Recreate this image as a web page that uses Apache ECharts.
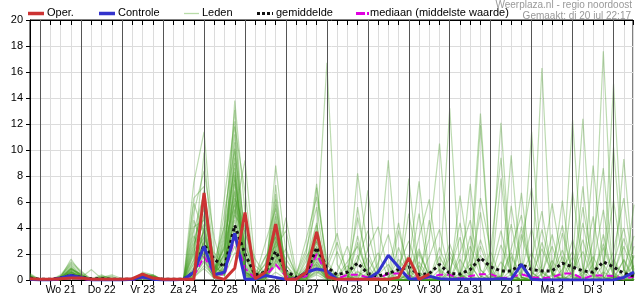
<!DOCTYPE html>
<html><head><meta charset="utf-8">
<script src="https://cdn.jsdelivr.net/npm/echarts@6/dist/echarts.min.js"></script>
<style>html,body{margin:0;padding:0;background:#fff}#c{width:635px;height:300px}</style>
</head><body><div id="c"></div>
<script>
// 6-hourly steps, index 0 = 20 jul 18:00
const dayLabels = ['Wo 21','Do 22','Vr 23','Za 24','Zo 25','Ma 26','Di 27','Wo 28','Do 29','Vr 30','Za 31','Zo 1','Ma 2','Di 3'];
const seriesNames = ['Oper.','Controle','Leden','gemiddelde','mediaan (middelste waarde)'];
const headerLines = ['Weerplaza.nl - regio noordoost','Gemaakt: di 20 jul 22:17'];

const oper = [.1,.05,.05,.1,.15,.15,.05,.05,.05,.05, .1,.45,.15,.05,.05,.05,.05,6.7,.25,.05, .9,5.2,.1,.6,4.3,.05,.05,.6,3.7,.25, .05,.05,.05,.05,.05,.05,.2,1.7,.05,.45];

const controle = [.05,0,0,.15,.35,.2,0,0,0,0, .05,.25,.05,0,0,.05,.6,2.6,.4,.6, 3.6,.05,.05,.35,.2,.05,.05,.6,.85,.7, .05,0,0,.1,.6,1.9,1.0,.1,.05,.3, .1,.05,.05,.05,.05,.05,.1,.05,1.2,.05, 0,0,0,0,0,0,0,0,.2,.6];

const gemiddelde = [.15,.05,.05,.15,.35,.2,.1,.1,.05,.05, .05,.3,.15,.05,.05,.05,.6,2.7,1.6,1.0, 4.2,2.0,.4,.6,2.2,.7,.2,.5,2.5,1.0, .4,.6,1.3,.5,.3,.5,.8,1.0,.4,.5, 1.2,.5,.45,.8,1.7,1.0,.7,.7,1.2,.8, .7,.7,1.3,1.0,.7,.6,1.4,1.0,.5,.3];

const mediaan = [.05,0,0,.05,.2,.1,0,0,0,0, 0,.2,.1,0,0,0,.3,1.8,.5,.4, 3.3,.9,.1,.3,1.2,.3,.05,.3,2.0,.4, .1,.4,.4,.2,.1,.5,.5,.3,.1,.2, .4,.4,.1,.3,.45,.45,.15,.2,.45,.2, .15,.2,.5,.5,.1,.35,.35,.3,.1,.25];

const leden = [
[.3,0,0,.2,1.6,.5,0,.1,0,0, 0,.3,.2,0,0,0,2.1,5.8,.8,2.5, 11.2,3.1,.3,1.2,4.5,.6,.1,.8,2.9,.4, 0,.2,1.5,3.8,.5,0,0,.4,2.2,.3, 0,0,6.5,1.2,0,.3,0,0,4.1,.6, 0,0,.2,1.8,0,0,3.5,.2,0,0],
[0,0,0,.3,1.2,.4,0,0,0,0, 0,.4,.3,0,0,0,.5,3.2,1.5,4.1, 8.6,1.2,0,.5,6.2,.3,0,1.5,4.4,.2, 0,0,8.2,2.2,.1,0,.8,1.9,0,0, .3,2.8,.4,0,0,0,7.8,.5,0,0, 0,1.1,4.2,.3,0,0,0,.5,2.6,.4],
[.1,0,0,.1,.8,.3,0,.3,.2,0, 0,.5,.1,0,0,0,7.5,11.4,2.1,1.0, 13.8,5.2,.4,.6,2.3,.2,0,.3,1.6,.1, 0,0,0,.4,0,0,0,0,.5,3.2, 10.5,.6,0,0,.2,1.4,0,0,0,.3, 2.4,.5,0,0,0,0,1.2,6.1,.8,0],
[0,0,0,.2,1.0,.2,.8,.1,.3,0, 0,.2,.2,0,0,0,1.2,2.8,.5,.6, 5.1,9.2,1.1,.4,3.6,.8,.2,.5,7.1,1.2, .2,0,.3,.8,0,0,2.5,.4,0,0, 0,0,0,1.6,12.8,.9,0,0,0,0, .4,3.5,.3,0,0,0,0,0,0,.6],
[.4,0,0,.4,1.4,.7,0,0,0,0, 0,.6,.4,0,0,0,.3,4.2,.3,3.3, 6.8,.9,.2,2.9,5.5,1.2,0,0,2.1,.5, .1,0,3.4,.2,0,0,0,0,1.1,0, 0,.7,3.3,.2,0,0,0,1.8,.2,0, 0,0,0,0,7.2,.4,0,.2,1.5,0],
[0,0,0,0,.6,.2,0,.2,.4,.1, 0,.2,.1,0,0,0,3.4,1.6,.1,1.8, 4.2,.3,0,.2,8.8,2.1,.5,2.4,5.6,.3, 0,0,0,0,0,0,.2,5.1,.6,0, 0,0,0,0,0,2.3,9.4,.5,0,0, 0,0,.8,2.2,.1,0,0,1.3,4.0,.3],
[.2,0,0,.1,.9,.4,0,0,0,0, 0,.4,.3,0,0,0,.8,3.5,.6,5.2, 10.1,1.8,.1,.3,1.4,4.8,.6,.1,3.3,16.7, 1.2,0,0,0,.4,1.2,0,0,0,0, .8,.2,0,0,3.1,.6,0,0,0,1.6, 5.3,.4,0,0,0,0,0,.2,0,0],
[0,0,0,.2,.7,.1,0,0,0,0, 0,.3,.2,0,0,0,5.2,8.4,3.2,.4, 7.4,2.6,.8,.2,3.1,.4,0,.6,.9,.2, 0,.6,4.8,1.1,0,0,0,0,0,0, 0,13.2,.5,0,0,0,.3,2.1,.2,0, 0,0,.2,6.8,1.0,0,0,0,.3,1.1],
[.1,0,0,.2,.5,.3,0,0,0,0, 0,.2,.1,0,0,0,.6,1.8,.2,6.4, 12.2,.7,0,1.8,2.6,.3,0,0,1.4,.3, .6,2.6,0,0,0,0,.1,1.3,7.6,.4, 0,0,0,0,0,0,2.7,.5,0,0, 16.3,.5,0,0,0,0,.6,.2,0,0],
[0,0,0,0,.4,.2,0,.1,0,0, 0,.1,.4,0,0,0,2.6,6.1,.4,.9, 6.3,4.1,.2,.4,3.9,.5,0,.2,2.2,.6, 0,0,.4,.2,0,0,0,0,.2,0, 1.8,.4,0,0,0,.2,12.1,.3,0,0, 0,0,0,.5,3.1,.2,17.6,1.4,0,0],
[.5,0,0,0,.3,.2,0,0,0,0, 0,.2,.2,0,0,0,.2,1.1,.3,2.2, 9.4,.5,0,.1,1.2,2.4,.3,3.2,6.4,1.5, .2,0,0,.6,2.1,.2,0,0,0,0, 0,0,.5,2.6,.3,0,0,0,0,11.4, .6,0,0,0,.4,1.8,.2,0,0,0],
[0,0,0,.1,.5,.1,0,.2,0,0, 0,.1,.1,0,0,0,4.1,4.6,1.9,.3, 3.8,.6,.1,.2,2.8,.2,0,.1,.5,1.2, 3.6,.3,0,0,0,0,0,.6,2.4,.2, 0,0,0,0,0,0,0,0,3.5,.6, 0,0,0,12.3,.6,0,0,.4,3.2,.8],
[.2,0,0,.3,1.1,.3,0,0,0,0, 0,.5,.3,0,0,0,1.6,9.8,.6,3.9, 13.1,2.2,0,.6,5.1,.4,0,.5,2.6,.1, 0,0,1.2,6.9,.5,0,0,0,0,0, 0,0,.2,.6,5.2,.4,0,0,0,0, .8,0,0,0,0,0,0,.2,9.3,.4],
[0,0,0,0,.3,.1,0,0,0,0, 0,.1,0,0,0,0,.4,2.5,.2,.8, 2.6,.5,.4,1.8,3.3,.6,.1,1.1,4.2,.2, 0,0,0,0,.8,9.2,.3,0,0,0, 0,0,.3,1.2,0,0,0,0,0,0, 0,.3,6.1,.4,0,0,2.5,.3,0,0],
[.1,0,0,.2,.8,.5,0,0,0,0, 0,.3,.2,0,0,0,6.3,7.2,.5,4.4, 11.8,6.8,.3,.2,1.8,.1,0,.6,3.5,.5, 0,0,0,0,0,.2,1.6,.4,0,0, 0,0,0,0,0,0,0,.8,6.7,.3, 0,0,0,0,.6,4.9,.2,0,0,.4],
[0,0,0,.1,.4,.2,0,.1,0,0, 0,.2,.3,0,0,0,.9,3.9,.2,1.1, 7.7,.4,0,.4,2.5,3.8,.2,.2,1.8,.3, .1,0,0,0,0,0,0,0,0,4.6, .4,0,0,0,0,0,0,9.6,.2,0, 0,0,0,.6,2.2,0,0,.3,0,0],
[.3,0,0,.2,.9,.4,0,0,0,0, 0,.4,.2,0,0,0,2.8,4.3,.7,2.7, 5.9,1.3,.2,.6,7.3,.3,0,.9,1.2,0, 0,0,2.9,.4,0,0,0,.5,5.1,.2, 0,0,0,0,0,0,0,0,.4,2.1, .3,0,0,0,0,8.8,1.2,0,0,0],
[0,0,0,.1,.2,.1,0,0,0,0, 0,.2,.1,0,0,0,.2,.9,.1,.5, 3.2,.2,0,0,.6,.1,0,0,.4,0, 0,0,0,.3,0,0,0,0,0,0, 0,0,.2,.4,0,0,0,0,0,0, 0,0,.1,0,0,0,0,0,.2,.6],
[.2,0,0,.3,1.3,.6,.1,.4,0,0, 0,.5,.4,0,0,0,3.8,6.6,1.2,.3, 9.9,3.6,1.6,.4,4.1,1.1,.3,2.1,7.4,.6, 0,0,0,0,0,0,3.8,.8,0,0, 0,.5,4.4,.3,0,0,0,0,0,0, 2.9,.4,0,0,0,0,0,0,0,5.8],
[0,0,0,.2,.6,.2,0,0,0,0, 0,.2,.2,0,0,0,.5,2.2,.4,1.6, 4.6,.8,0,.2,1.6,.3,0,.4,3.1,.5, .2,1.1,0,0,0,0,0,0,0,0, 0,0,0,0,11.9,.7,0,0,0,0, .5,2.6,.2,0,0,0,0,0,1.6,.2],
[.4,0,0,.2,.5,.2,0,0,0,0, 0,.3,.1,0,0,0,1.3,5.1,.9,.6, 8.1,.6,.2,.8,6.6,.5,0,.3,1.4,.2, 0,0,0,1.7,.2,0,0,0,0,0, 0,0,0,0,0,.5,3.8,.4,0,0, 0,0,0,0,0,0,.2,15.1,.8,0],
[0,0,0,0,.3,.1,0,0,0,0, 0,.1,.1,0,0,0,.7,3.0,.3,.4, 2.1,1.6,.1,0,2.1,.2,0,0,.7,.1, 0,0,0,0,0,0,.6,0,0,0, 0,0,1.6,.2,0,0,0,0,.2,0, 0,0,0,0,0,0,0,0,0,2.6],
[.2,0,0,.1,.6,.3,0,.2,.1,0, 0,.4,.3,0,0,0,2.2,3.7,.5,2.0, 6.1,2.8,.3,.3,2.9,.8,0,.4,2.5,.4, 0,0,0,0,0,0,0,0,1.4,.2, 0,0,0,0,0,0,0,.4,0,0, 0,0,0,1.4,12.4,.5,0,0,0,0],
[0,0,0,.1,.4,.1,0,0,0,0, 0,.2,.1,0,0,0,.3,1.4,.1,.9, 5.4,.3,0,.1,1.1,.2,0,.1,.8,.1, 2.2,.3,0,0,0,0,0,0,0,0, 0,0,0,0,0,0,.3,4.3,.2,0, 0,0,0,0,0,0,0,0,0,0],
[.1,0,0,.2,.7,.2,0,0,0,0, 0,.3,.2,0,0,0,4.6,2.4,.6,1.3, 3.5,.4,.2,1.3,3.4,.4,.1,.4,1.7,.5, 0,0,.7,0,0,0,0,7.8,.4,0, 0,0,0,0,0,0,0,0,0,0, 0,0,1.8,.2,0,0,0,.3,0,0],
[0,0,0,.1,.3,.1,0,0,0,0, 0,.2,.1,0,0,0,1.9,3.3,.9,2.4, 6.5,1.1,.1,.6,2.0,.3,0,.6,3.8,.7, .3,1.4,2.6,.5,0,0,1.1,3.0,.6,0, 0,0,2.1,4.6,.8,0,0,0,1.3,.2, 0,0,3.6,.5,0,1.2,5.4,.6,0,0],
[.2,0,0,.2,.9,.3,0,.3,.1,0, 0,.3,.2,0,0,0,.4,2.0,.3,3.0, 7.9,2.4,.3,.2,3.0,1.6,.4,.3,2.0,.4, 0,0,0,2.4,4.1,.6,0,0,0,1.8, 3.9,.4,0,0,0,0,0,2.4,5.0,.3, 0,0,0,0,0,.4,2.8,.5,0,1.8],
[0,0,0,.2,.5,.2,0,0,0,0, 0,.2,.2,0,0,0,3.1,5.5,.4,.7, 5.5,.5,.1,.9,2.4,.2,0,1.8,3.0,.8, .2,0,.6,.2,0,0,0,0,3.3,6.2, .7,0,0,0,1.9,.3,0,0,0,0, 1.1,5.9,1.3,0,0,0,0,0,.8,3.4],
[.3,0,0,.1,.6,.3,0,0,0,0, 0,.4,.3,0,0,0,.7,4.0,.6,1.9, 10.6,.9,0,.3,4.9,.6,0,.2,1.1,.2, 0,0,1.9,.3,0,0,0,0,0,0, 0,1.8,.3,0,6.3,2.2,0,0,0,.4, 3.9,.6,0,0,4.4,.3,0,0,.2,1.9],
[0,0,0,.1,.4,.1,0,0,0,0, 0,.2,.1,0,0,0,1.0,2.9,.2,3.6, 8.3,.7,0,.2,1.9,.4,0,.5,2.2,.9, 2.9,.5,0,0,0,.6,4.4,.2,0,0, 0,0,0,0,0,0,1.4,.3,0,0, 0,.4,2.3,.2,0,3.0,8.6,.4,0,0],
[.1,0,0,.2,.8,.4,0,0,0,0, 0,.3,.2,0,0,0,2.4,6.9,1.0,.5, 5.0,3.7,.2,.4,3.3,.7,0,.2,.6,.1, 0,.3,0,0,0,0,0,1.7,.3,0, 0,2.2,.4,0,0,0,0,0,2.9,7.1, .6,0,0,0,0,0,0,1.6,.2,0],
[0,0,0,0,.3,.2,0,0,0,0, 0,.1,.1,0,0,0,.6,2.1,.2,1.2, 4.0,.4,0,.1,1.3,.2,0,.3,1.2,.3, 0,0,0,0,1.3,3.5,.4,0,0,0, 0,0,0,3.4,.8,0,0,0,0,0, 0,0,0,.3,5.6,1.0,0,0,0,.2],
[.2,0,0,.2,.7,.3,0,0,0,0, 0,.3,.2,0,0,0,5.9,3.6,.8,2.0, 6.9,1.7,.3,.3,5.8,.5,0,.9,3.7,.4, 0,0,0,0,0,0,0,0,0,0, 2.5,.3,0,0,0,0,0,5.7,1.0,0, 0,0,.4,3.1,.2,0,0,0,0,0],
[0,0,0,.1,.3,.1,0,0,0,0, 0,.2,.1,0,0,0,.3,1.5,.4,2.6, 9.0,.6,.1,.2,1.5,.3,0,.2,1.0,.2, 0,0,5.6,.6,0,0,0,0,0,0, 0,0,0,0,2.6,.4,0,0,.6,4.0, .2,0,0,0,0,0,0,10.2,.6,0],
[.3,0,0,.2,.6,.2,0,0,0,0, 0,.4,.3,0,0,0,1.5,4.9,.5,1.4, 5.8,2.0,.2,.5,3.7,.3,0,.6,2.3,.5, .4,0,0,0,0,0,0,0,2.0,.3, 0,0,0,7.4,.3,0,0,0,0,0, 0,1.5,.2,0,0,0,.3,2.2,6.3,.4]
];

const toPairs = arr => arr.map((v, i) => [i, v]);
const dayLines = dayLabels.map((d, k) => 1 + 4 * k).concat([1 + 4 * dayLabels.length]);

const FONT = 'Liberation Sans, Arial, sans-serif';
const RED = '#cc3333', BLUE = '#3333cc', GREEN = 'rgba(70,155,35,0.36)', BLACK = '#111', MAGENTA = '#e000e0';

const chart = echarts.init(document.getElementById('c'), null, {renderer: 'canvas'});

const series = [];
series.push({
  name: 'dagen', type: 'line', data: [], z: 1, silent: true,
  markLine: {silent: true, symbol: ['none','none'], label: {show: false}, animation: false,
    lineStyle: {color: '#555', width: 1, type: 'solid'},
    data: dayLines.map(v => ({xAxis: v}))}
});
leden.forEach(m => series.push({
  name: seriesNames[2], type: 'line', data: toPairs(m), symbol: 'none', z: 2, silent: true,
  lineStyle: {color: GREEN, width: 1.2}
}));
series.push({name: seriesNames[4], type: 'line', data: toPairs(mediaan), symbol: 'none', z: 3,
  lineStyle: {color: MAGENTA, width: 2, type: [7, 4]}});
series.push({name: seriesNames[3], type: 'line', data: toPairs(gemiddelde), symbol: 'none', z: 4,
  lineStyle: {color: BLACK, width: 3, type: [3, 3]}});
series.push({name: seriesNames[1], type: 'line', data: toPairs(controle), symbol: 'none', z: 5,
  lineStyle: {color: BLUE, width: 3}});
series.push({name: seriesNames[0], type: 'line', data: toPairs(oper), symbol: 'none', z: 6,
  lineStyle: {color: RED, width: 3}});

// hand-drawn legend (line icons + text)
const legendItems = [
  {name: seriesNames[0], x: 28, w: 16, stroke: RED, lw: 3.5, dash: null, tx: 47},
  {name: seriesNames[1], x: 99, w: 16, stroke: BLUE, lw: 3.5, dash: null, tx: 118},
  {name: seriesNames[2], x: 184, w: 15, stroke: '#b8dca8', lw: 1.3, dash: null, tx: 202},
  {name: seriesNames[3], x: 257, w: 16, stroke: BLACK, lw: 3, dash: [3, 2], tx: 276},
  {name: seriesNames[4], x: 356, w: 13, stroke: MAGENTA, lw: 3, dash: [9, 2], tx: 370}
];
const graphic = [];
legendItems.forEach(it => {
  graphic.push({type: 'line', shape: {x1: it.x, y1: 13.5, x2: it.x + it.w, y2: 13.5},
    style: {stroke: it.stroke, lineWidth: it.lw, lineDash: it.dash}, silent: true});
  graphic.push({type: 'text', left: it.tx, top: 7.5,
    style: {text: it.name, fill: '#000', font: '11px Liberation Sans, Arial'}, silent: true});
});
graphic.push({type: 'text', right: 3, top: 0, style: {text: headerLines[0], fill: '#999', font: '10px Liberation Sans, Arial'}});
graphic.push({type: 'text', right: 4, top: 11, style: {text: headerLines[1], fill: '#999', font: '10px Liberation Sans, Arial'}});

chart.setOption({
  animation: false,
  textStyle: {fontFamily: FONT},
  grid: {left: 30, right: 2, top: 20, bottom: 20, show: true, borderColor: '#000', borderWidth: 1, backgroundColor: 'transparent'},
  graphic: graphic,
  xAxis: [{
    type: 'value', min: 0, max: 58.9, interval: 1, position: 'bottom',
    axisLine: {show: true, lineStyle: {color: '#000'}},
    axisTick: {show: true, length: 5, lineStyle: {color: '#000'}},
    axisLabel: {fontSize: 10.5, color: '#000', margin: 5, showMaxLabel: false,
      formatter: v => ((v - 3) % 4 === 0 && (v - 3) / 4 < dayLabels.length) ? dayLabels[(v - 3) / 4] : ''},
    splitLine: {show: true, lineStyle: {color: '#dcdcdc', width: 1}}
  }, {
    type: 'value', min: 0, max: 58.9, interval: 1, position: 'top',
    axisLine: {show: true, lineStyle: {color: '#000'}},
    axisTick: {show: true, inside: true, length: 5, lineStyle: {color: '#000'}},
    axisLabel: {show: false}, splitLine: {show: false}
  }],
  yAxis: {
    type: 'value', min: 0, max: 20, interval: 2,
    axisLine: {show: true, lineStyle: {color: '#000'}},
    axisTick: {show: true, length: 4, lineStyle: {color: '#000'}},
    axisLabel: {fontSize: 11, color: '#000', margin: 7},
    splitLine: {show: true, lineStyle: {color: '#dcdcdc', width: 1}}
  },
  series: series
});
</script></body></html>
